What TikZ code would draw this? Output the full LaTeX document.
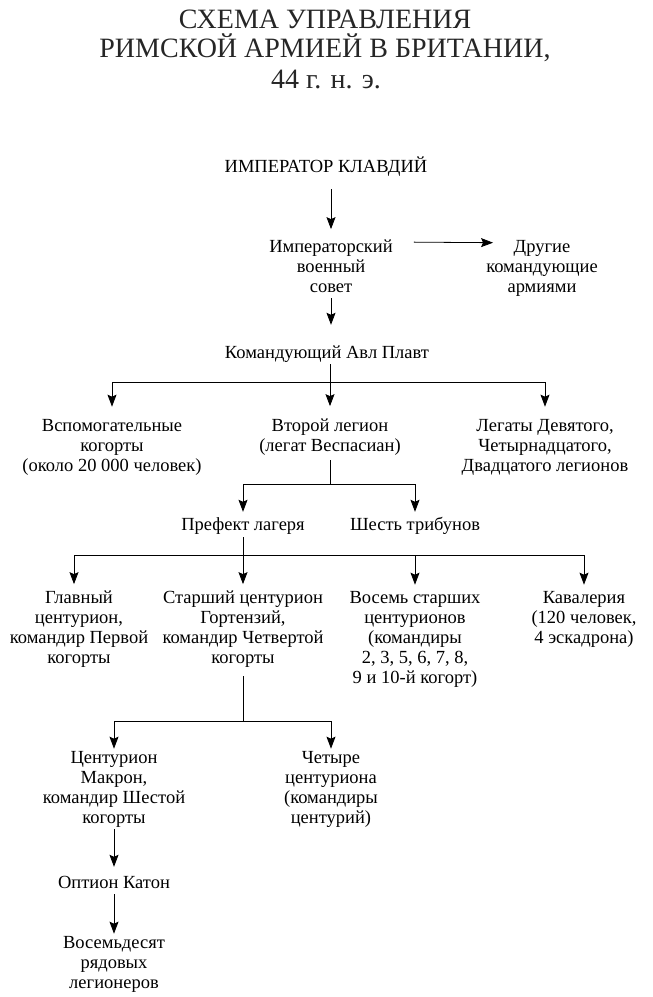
\documentclass[tikz,border=0pt]{standalone}
\usepackage{fontspec}
\setmainfont{Liberation Serif}
\usetikzlibrary{arrows.meta,calc}
\begin{document}
\begin{tikzpicture}[x=1pt,y=-1pt,
  lbl/.style={font=\fontsize{18.5}{20}\selectfont, align=center, anchor=base, inner sep=0pt,
    execute at begin node={\strut}, execute at end node={\strut}},
  ttl/.style={font=\fontsize{28}{30}\selectfont, anchor=base, inner sep=0pt, text=black!85},
  arr/.style={-{Stealth[width=9pt,length=12pt,inset=2pt]}, line width=0.8pt},
  ln/.style={line width=0.8pt}]
\useasboundingbox (0,0) rectangle (653,997);
% title
\node[ttl] (t1) at (325,28) {СХЕМА УПРАВЛЕНИЯ};
\node[ttl] (t2) at (325,57) {РИМСКОЙ АРМИЕЙ В БРИТАНИИ,};
\node[ttl] (t3) at (326,88) {44 г. н. э.};
% nodes (anchor = baseline of last line)
\node[lbl] (klav) at (326,172) {ИМПЕРАТОР КЛАВДИЙ};
\node[lbl] (council) at (331,292) {Императорский\\военный\\совет};
\node[lbl] (others) at (542,292) {Другие\\командующие\\армиями};
\node[lbl] (plavt) at (327,358) {Командующий Авл Плавт};
\node[lbl] (aux) at (112,471) {Вспомогательные\\когорты\\(около 20 000 человек)};
\node[lbl] (leg2) at (330,451) {Второй легион\\(легат Веспасиан)};
\node[lbl] (legates) at (545,471) {Легаты Девятого,\\Четырнадцатого,\\Двадцатого легионов};
\node[lbl] (pref) at (243,530) {Префект лагеря};
\node[lbl] (trib) at (415,530) {Шесть трибунов};
\node[lbl] (glav) at (79,663) {Главный\\центурион,\\командир Первой\\когорты};
\node[lbl] (starsh) at (243,663) {Старший центурион\\Гортензий,\\командир Четвертой\\когорты};
\node[lbl] (vosem) at (415,683) {Восемь старших\\центурионов\\(командиры\\2, 3, 5, 6, 7, 8,\\9 и 10-й когорт)};
\node[lbl] (kav) at (584,643) {Кавалерия\\(120 человек,\\4 эскадрона)};
\node[lbl] (makr) at (114,823) {Центурион\\Макрон,\\командир Шестой\\когорты};
\node[lbl] (four) at (331,823) {Четыре\\центуриона\\(командиры\\центурий)};
\node[lbl] (opt) at (114,888) {Оптион Катон};
\node[lbl] (eighty) at (114,988) {Восемьдесят\\рядовых\\легионеров};
% junctions
\coordinate (j1) at (330,382);
\coordinate (j2) at (330,484);
\coordinate (j3) at (243,555);
\coordinate (j3l) at (74,555);
\coordinate (j4) at (243,721);
% connectors
\draw[arr, shorten <=11pt, shorten >=10pt] (klav.south -| council.north) -- (council.north);
\draw[arr] ($(council.north east)+(21,3)$) -- ($(others.north west)+(7,3)$);
\draw[arr, shorten >=19pt] (council.south) -- (council.south |- plavt.north);
% tree 1
\draw[arr, shorten >=12pt] (plavt.south -| leg2.north) -- (leg2.north);
\draw[ln] (aux.north |- j1) -- (legates.north |- j1);
\draw[arr, shorten >=12pt] (aux.north |- j1) -- (aux.north);
\draw[arr, shorten >=12pt] (legates.north |- j1) -- (legates.north);
% tree 2
\draw[ln, shorten <=3pt] (leg2.south) -- (j2);
\draw[ln] (pref.north |- j2) -- (trib.north |- j2);
\draw[arr, shorten >=4pt] (pref.north |- j2) -- (pref.north);
\draw[arr, shorten >=4pt] (trib.north |- j2) -- (trib.north);
% tree 3
\draw[arr, shorten <=1pt, shorten >=6pt] (pref.south) -- (pref.south |- starsh.north);
\draw[ln] (j3l) -- (kav.north |- j3);
\draw[arr, shorten >=6pt] (j3l) -- (j3l |- glav.north);
\draw[arr, shorten >=6pt] (vosem.north |- j3) -- (vosem.north);
\draw[arr, shorten >=6pt] (kav.north |- j3) -- (kav.north);
% tree 4
\draw[ln, shorten <=7pt] (starsh.south) -- (j4);
\draw[ln] (makr.north |- j4) -- (four.north |- j4);
\draw[arr, shorten >=2pt] (makr.north |- j4) -- (makr.north);
\draw[arr, shorten >=2pt] (four.north |- j4) -- (four.north);
% chain
\draw[arr, shorten >=7pt] (makr.south) -- (opt.north);
\draw[arr, shorten >=2pt] (opt.south) -- (eighty.north);
\end{tikzpicture}
\end{document}
